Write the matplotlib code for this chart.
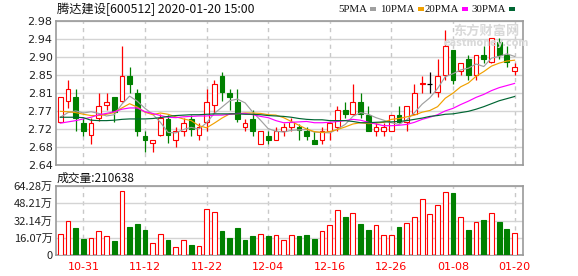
import matplotlib
matplotlib.use("Agg")
import matplotlib.pyplot as plt
from matplotlib.patches import Rectangle

plt.rcParams['font.family'] = ['Noto Sans CJK SC', 'DejaVu Sans']

############# DATA #############################################################

title = "腾达建设[600512] 2020-01-20 15:00"
vol_title = "成交量:210638"

# trading days 2019-10-28 .. 2020-01-20, ticks at these bar indices
date_ticks = [3, 11, 19, 27, 35, 43, 51, 59]
date_labels = ["10-31", "11-12", "11-22", "12-04", "12-16", "12-26", "01-08", "01-20"]

price_ticks = [2.64, 2.6825, 2.725, 2.7675, 2.81, 2.8525, 2.895, 2.9375, 2.98]
price_labels = ["2.64", "2.68", "2.72", "2.77", "2.81", "2.85", "2.90", "2.94", "2.98"]

vol_ticks = [0, 16.07, 32.14, 48.21, 64.28]
vol_labels = ["0", "16.07万", "32.14万", "48.21万", "64.28万"]

opens = [2.741, 2.791, 2.800, 2.739, 2.710, 2.751, 2.781, 2.800, 2.791, 2.850,
         2.810, 2.709, 2.691, 2.710, 2.749, 2.700, 2.721, 2.749, 2.710, 2.741,
         2.781, 2.850, 2.810, 2.788, 2.731, 2.749, 2.690, 2.709, 2.700, 2.721,
         2.731, 2.730, 2.720, 2.700, 2.700, 2.721, 2.731, 2.769, 2.761, 2.788,
         2.759, 2.721, 2.721, 2.721, 2.759, 2.741, 2.761, 2.832, 2.832, 2.812,
         2.852, 2.911, 2.862, 2.891, 2.852, 2.900, 2.883, 2.930, 2.900, 2.862]
highs = [2.800, 2.841, 2.820, 2.751, 2.751, 2.810, 2.810, 2.800, 2.921, 2.871,
         2.820, 2.720, 2.698, 2.760, 2.759, 2.729, 2.751, 2.759, 2.739, 2.820,
         2.841, 2.860, 2.820, 2.820, 2.749, 2.769, 2.720, 2.720, 2.729, 2.739,
         2.751, 2.737, 2.729, 2.720, 2.729, 2.741, 2.779, 2.788, 2.831, 2.810,
         2.779, 2.739, 2.739, 2.759, 2.779, 2.779, 2.831, 2.850, 2.860, 2.891,
         2.960, 2.911, 2.881, 2.901, 2.900, 2.921, 2.940, 2.940, 2.921, 2.881]
lows = [2.741, 2.775, 2.721, 2.709, 2.690, 2.743, 2.771, 2.741, 2.788, 2.810,
        2.709, 2.670, 2.670, 2.708, 2.692, 2.682, 2.709, 2.709, 2.700, 2.720,
        2.763, 2.791, 2.771, 2.741, 2.721, 2.709, 2.690, 2.690, 2.700, 2.709,
        2.720, 2.700, 2.700, 2.690, 2.690, 2.700, 2.720, 2.751, 2.759, 2.751,
        2.721, 2.709, 2.709, 2.721, 2.739, 2.721, 2.761, 2.810, 2.810, 2.801,
        2.842, 2.832, 2.852, 2.842, 2.842, 2.881, 2.881, 2.891, 2.871, 2.852]
closes = [2.800, 2.819, 2.751, 2.721, 2.739, 2.779, 2.788, 2.766, 2.850, 2.832,
          2.721, 2.700, 2.698, 2.752, 2.712, 2.720, 2.739, 2.724, 2.729, 2.788,
          2.831, 2.812, 2.801, 2.750, 2.739, 2.721, 2.720, 2.700, 2.720, 2.729,
          2.741, 2.723, 2.709, 2.690, 2.720, 2.739, 2.769, 2.761, 2.788, 2.761,
          2.721, 2.729, 2.729, 2.759, 2.741, 2.779, 2.810, 2.833, 2.832, 2.850,
          2.921, 2.842, 2.881, 2.852, 2.900, 2.891, 2.940, 2.901, 2.883, 2.871]

ma5 = [2.753, 2.764, 2.768, 2.763, 2.766, 2.762, 2.756, 2.759, 2.784, 2.803,
       2.791, 2.774, 2.760, 2.741, 2.717, 2.716, 2.724, 2.729, 2.725, 2.740,
       2.762, 2.777, 2.792, 2.796, 2.787, 2.765, 2.746, 2.726, 2.720, 2.718,
       2.722, 2.723, 2.724, 2.718, 2.717, 2.716, 2.725, 2.736, 2.755, 2.764,
       2.760, 2.752, 2.746, 2.740, 2.736, 2.747, 2.764, 2.784, 2.799, 2.821,
       2.849, 2.856, 2.865, 2.869, 2.879, 2.873, 2.893, 2.897, 2.903, 2.897]
ma10 = [2.767, 2.766, 2.764, 2.760, 2.757, 2.757, 2.760, 2.764, 2.775, 2.785,
        2.777, 2.765, 2.759, 2.763, 2.760, 2.754, 2.749, 2.745, 2.733, 2.728,
        2.739, 2.751, 2.761, 2.761, 2.763, 2.763, 2.762, 2.759, 2.758, 2.752,
        2.743, 2.734, 2.725, 2.719, 2.717, 2.719, 2.724, 2.730, 2.737, 2.740,
        2.738, 2.739, 2.741, 2.748, 2.750, 2.754, 2.758, 2.765, 2.769, 2.778,
        2.798, 2.810, 2.825, 2.834, 2.850, 2.861, 2.874, 2.881, 2.886, 2.888]
ma20 = [2.739, 2.742, 2.745, 2.749, 2.753, 2.759, 2.762, 2.766, 2.772, 2.775,
        2.775, 2.766, 2.762, 2.757, 2.753, 2.752, 2.754, 2.755, 2.756, 2.756,
        2.758, 2.758, 2.760, 2.762, 2.762, 2.759, 2.755, 2.752, 2.745, 2.740,
        2.741, 2.742, 2.743, 2.740, 2.740, 2.741, 2.743, 2.745, 2.748, 2.746,
        2.741, 2.737, 2.733, 2.733, 2.734, 2.736, 2.741, 2.748, 2.753, 2.759,
        2.768, 2.774, 2.783, 2.791, 2.800, 2.807, 2.816, 2.823, 2.828, 2.833]
ma30 = [2.753, 2.753, 2.753, 2.752, 2.746, 2.745, 2.745, 2.746, 2.748, 2.749,
        2.749, 2.749, 2.750, 2.752, 2.755, 2.757, 2.758, 2.759, 2.759, 2.760,
        2.761, 2.761, 2.761, 2.761, 2.760, 2.760, 2.759, 2.757, 2.756, 2.755,
        2.753, 2.750, 2.748, 2.747, 2.747, 2.745, 2.745, 2.745, 2.743, 2.740,
        2.740, 2.741, 2.742, 2.742, 2.743, 2.745, 2.748, 2.751, 2.755, 2.757,
        2.760, 2.761, 2.764, 2.767, 2.772, 2.778, 2.785, 2.792, 2.797, 2.802]

# volume in 万 shares; 1 = up day (red hollow), 0 = down day (green)
volumes = [19.5, 31.8, 25.4, 15.2, 15.8, 22.3, 17.6, 13.3, 59.4, 26.3,
           28.8, 23.5, 11.1, 19.5, 14.2, 7.4, 13.9, 9.6, 8.4, 42.7,
           39.9, 22.6, 16.1, 25.4, 14.2, 17.9, 19.5, 17.9, 18.6, 14.2,
           18.6, 17.9, 18.9, 15.2, 22.3, 27.8, 41.8, 35.6, 39.0, 29.1,
           23.8, 27.8, 18.6, 18.6, 26.3, 29.7, 35.3, 52.0, 38.0, 46.4,
           58.8, 57.8, 35.3, 23.8, 30.6, 32.8, 39.0, 30.9, 24.4, 21.06]
vol_up = [1, 1, 0, 0, 1, 1, 1, 0, 1, 0,
          0, 0, 1, 1, 0, 1, 1, 0, 1, 1,
          1, 0, 0, 0, 0, 0, 1, 0, 1, 1,
          1, 0, 0, 0, 1, 1, 1, 0, 1, 0,
          0, 1, 1, 1, 0, 1, 1, 1, 1, 1,
          1, 0, 1, 0, 1, 0, 1, 0, 0, 1]

############# STYLE ############################################################

RED = "#ff0000"
GREEN = "#008000"
GRID = "#d4d4d4"
FRAME = "#9a9a9a"
ma_colors = ["#a0a0a0", "#f0a000", "#ff00ff", "#006633"]
W, H = 578, 276

fig = plt.figure(figsize=(W / 100, H / 100), dpi=100)

def px_axes(x0, y0, x1, y1):
	return fig.add_axes([x0 / W, 1 - y1 / H, (x1 - x0) / W, (y1 - y0) / H])

ax = px_axes(56, 21.3, 522.5, 165)
axv = px_axes(56, 186, 522.5, 255.3)

for a in (ax, axv):
	a.set_xlim(-0.56, 60.03)
	for s in a.spines.values():
		s.set_color(FRAME)
		s.set_linewidth(1.2)
	a.set_xticks(date_ticks)
	a.grid(axis="y", color=GRID, linewidth=1.0, linestyle="-")
	a.grid(axis="x", color="#c8c8c8", linewidth=1.0, linestyle=(0, (3, 3)))
	a.set_axisbelow(True)
	a.tick_params(length=0, labelsize=8, pad=2.5, labelcolor="#222222")

############# PRICE ############################################################

ax.set_ylim(2.64, 2.98)
ax.set_yticks(price_ticks)
ax.set_yticklabels(price_labels, family="DejaVu Sans")
ax.set_xticklabels([])

x = list(range(len(closes)))
for i in x:
	o, h, l, c = opens[i], highs[i], lows[i], closes[i]
	if c > o:
		col, face = RED, "white"
	elif c < o:
		col, face = GREEN, GREEN
	else:
		col, face = "black", "black"
	ax.vlines(i, l, h, color=col, linewidth=0.9, zorder=3)
	if c == o:
		ax.hlines(c, i - 0.31, i + 0.31, color=col, linewidth=0.9, zorder=4)
	else:
		ax.bar(i, c - o, bottom=o, width=0.62, facecolor=face, edgecolor=col,
			linewidth=0.8, zorder=4)

for ma, col in zip([ma5, ma10, ma20, ma30], ma_colors):
	ax.plot(x, ma, color=col, linewidth=0.85, zorder=5)

############# VOLUME ###########################################################

axv.set_ylim(0, 64.28)
axv.set_yticks(vol_ticks)
axv.set_yticklabels(vol_labels)
axv.set_xticklabels(date_labels, family="DejaVu Sans")
axv.tick_params(axis="x", labelcolor=RED, pad=5)

for i in x:
	if vol_up[i]:
		axv.bar(i, volumes[i], width=0.62, facecolor="white", edgecolor=RED,
			linewidth=0.8, zorder=3)
	else:
		axv.bar(i, volumes[i], width=0.62, facecolor=GREEN, edgecolor=GREEN,
			linewidth=0.8, zorder=3)

############# TEXT #############################################################

fig.text(57 / W, 1 - 9 / H, title, fontsize=8.8, va="center", ha="left", color="#111111")
fig.text(57 / W, 1 - 178 / H, vol_title, fontsize=8.5, va="center", ha="left", color="#111111")

# legend: label text, then a short colour dash right after it
legend_names = ["5PMA", "10PMA", "20PMA", "30PMA"]
legend_x = [338, 380, 425, 471]
renderer = fig.canvas.get_renderer()
for name, lx, col in zip(legend_names, legend_x, ma_colors):
	t = fig.text(lx / W, 1 - 9 / H, name, fontsize=7.8, va="center", ha="left",
		family="Liberation Serif", color="#111111")
	right = t.get_window_extent(renderer).x1
	fig.patches.append(Rectangle(((right + 3) / W, 1 - 10.5 / H), 6 / W, 3 / H,
		transform=fig.transFigure, facecolor=col, edgecolor="none"))

# watermark
fig.text(486 / W, 1 - 31 / H, "东方财富网", fontsize=9.5, weight="bold",
	va="center", ha="center", color="#d9d9d9")
fig.text(486 / W, 1 - 43.5 / H, "eastmoney.com", fontsize=7, weight="bold",
	va="center", ha="center", color="#d9d9d9", family="DejaVu Sans")

fig.savefig("out.png", dpi=100)
